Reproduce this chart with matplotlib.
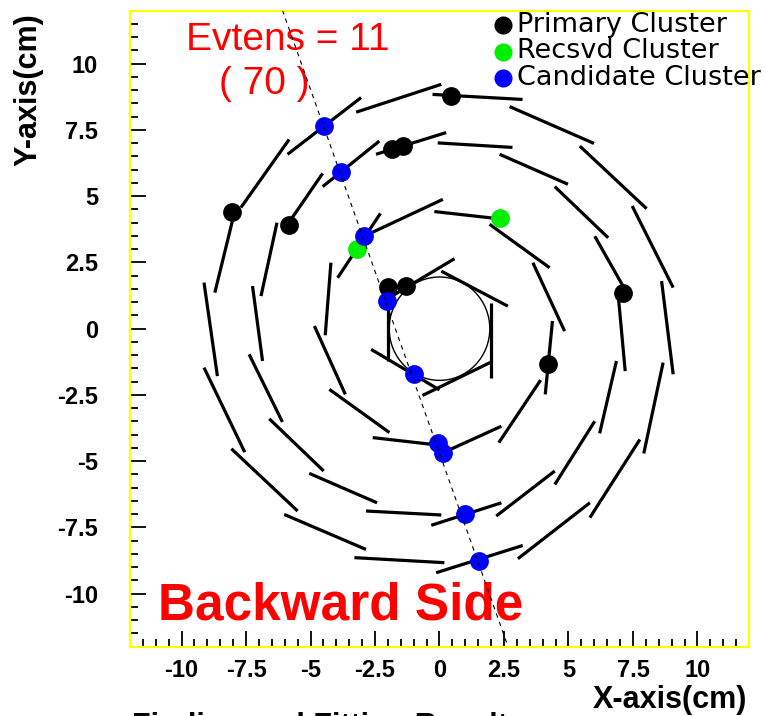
import matplotlib.pyplot as plt
import matplotlib
from matplotlib.collections import LineCollection
from matplotlib.patches import Circle
from matplotlib.ticker import MultipleLocator

# 字体
matplotlib.rc("font", family=['Liberation Sans', 'DejaVu Sans'])
matplotlib.rcParams['axes.unicode_minus'] = False

# 探测器梯子 (x0, y0, x1, y1)，单位 cm
ring0 = [(-2.00, -1.22, -2.00, 1.80), (-2.00, 1.14, 0.58, 2.64), (0.07, 2.17, 2.65, 0.85),
         (1.98, 0.98, 1.98, -1.85), (1.98, -1.27, -0.66, -2.52), (0.00, -2.31, -2.65, -0.78)]
ring1 = [(-3.95, 1.92, -2.29, 4.35), (-2.68, 3.60, 0.13, 4.88), (-0.20, 4.42, 2.55, 4.12),
         (1.94, 3.94, 4.27, 2.30), (3.62, 2.49, 4.85, -0.09), (4.38, 0.29, 4.10, -2.48),
         (3.92, -1.94, 2.30, -4.30), (2.40, -3.68, -0.13, -4.80), (0.20, -4.42, -2.59, -4.11),
         (-1.94, -3.92, -4.27, -2.29), (-3.65, -2.48, -4.85, 0.10), (-4.43, -0.25, -4.21, 2.49)]
ring2 = [(-2.46, 6.58, 0.26, 7.40), (-0.07, 7.01, 2.83, 6.84), (2.33, 6.58, 4.98, 5.45),
         (4.47, 5.36, 6.54, 3.43), (6.02, 3.49, 7.30, 1.29), (6.92, 1.36, 7.20, -1.60),
         (6.86, -1.22, 6.21, -3.95), (6.02, -3.49, 4.47, -5.88), (4.47, -5.37, 2.20, -7.07),
         (2.40, -6.57, -0.32, -7.42), (0.07, -7.03, -2.85, -6.88), (-2.42, -6.57, -5.05, -5.46),
         (-4.49, -5.37, -6.60, -3.40), (-6.09, -3.52, -7.38, -0.97), (-6.86, -1.22, -7.25, 1.61),
         (-6.92, 1.23, -6.30, 4.00), (-6.02, 3.75, -4.53, 5.86), (-4.53, 5.36, -2.33, 7.08)]
ring3 = [(-3.23, 8.17, 0.07, 9.22), (-0.27, 8.84, 3.22, 8.65), (2.72, 8.38, 5.99, 6.99),
         (5.44, 6.89, 8.03, 4.53), (7.47, 4.63, 9.06, 1.55), (8.61, 1.80, 9.06, -1.72),
         (8.67, -1.28, 7.92, -4.71), (7.77, -4.18, 5.83, -7.13), (5.83, -6.57, 3.04, -8.68),
         (3.23, -8.18, -0.13, -9.21), (0.19, -8.83, -3.30, -8.64), (-2.85, -8.33, -6.02, -7.01),
         (-5.50, -6.88, -8.07, -4.53), (-7.55, -4.66, -9.13, -1.47), (-8.61, -1.79, -9.13, 1.74),
         (-8.71, 1.36, -7.92, 4.50), (-7.70, 4.57, -5.83, 7.14), (-5.89, 6.58, -3.04, 8.72)]
beam_pipe_r = 1.95

# 簇
primary_x = [0.43, -8.03, -5.83, -1.86, -1.40, -2.01, -1.29, 4.21, 7.12]
primary_y = [8.78, 4.40, 3.90, 6.77, 6.89, 1.56, 1.61, -1.35, 1.36]
recsvd_x = [-3.20, 2.33]
recsvd_y = [2.99, 4.19]
cand_x = [-4.47, -3.82, -2.91, -2.03, -0.97, -0.07, 0.13, 0.97, 1.55]
cand_y = [7.65, 5.91, 3.49, 1.04, -1.72, -4.30, -4.68, -7.00, -8.77]

# 拟合径迹
track_x = [-6.09, 2.60]
track_y = [12.02, -11.84]

legend_labels = ['Primary Cluster', 'Recsvd Cluster', 'Candidate Cluster']
legend_colors = ['black', '#00ee00', '#0000ff']

fig = plt.figure(figsize=(7.65, 7.16), dpi=100)
ax = fig.add_axes([0.1699, 0.0968, 0.8092, 0.8883])

for ring in [ring0, ring1, ring2, ring3]:
    segs = [[(s[0], s[1]), (s[2], s[3])] for s in ring]
    ax.add_collection(LineCollection(segs, colors='black', linewidths=2.3, capstyle='butt'))
ax.add_patch(Circle((0, 0), beam_pipe_r, fill=False, edgecolor='black', linewidth=1.0))

ax.plot(primary_x, primary_y, 'o', color='black', ms=12.5, zorder=3)
ax.plot(recsvd_x, recsvd_y, 'o', color='#00ee00', ms=12.5, zorder=3)
ax.plot(cand_x, cand_y, 'o', color='#0000ff', ms=12.5, zorder=4)
ax.plot(track_x, track_y, color='black', lw=0.8, dashes=(4, 4), zorder=5)

ax.set_xlim(-12, 12)
ax.set_ylim(-12, 12)

# 坐标轴样式
for sp in ax.spines.values():
    sp.set_color('#ffff00')
    sp.set_linewidth(1.6)
ax.xaxis.set_major_locator(MultipleLocator(2.5))
ax.yaxis.set_major_locator(MultipleLocator(2.5))
ax.xaxis.set_minor_locator(MultipleLocator(0.5))
ax.yaxis.set_minor_locator(MultipleLocator(0.5))
ax.xaxis.set_major_formatter(matplotlib.ticker.FuncFormatter(lambda v, p: '%g' % v))
ax.yaxis.set_major_formatter(matplotlib.ticker.FuncFormatter(lambda v, p: '%g' % v))
ax.tick_params(which='both', direction='in', top=False, right=False, width=1.3, color='black')
ax.tick_params(which='major', length=11.5, labelsize=17)
ax.tick_params(which='minor', length=5.8)
ax.tick_params(axis='y', which='major', pad=23)
ax.tick_params(axis='x', which='major', pad=9)
for lb in ax.get_xticklabels() + ax.get_yticklabels():
    lb.set_fontweight('bold')

# 文字
ax.text(-5.9, 10.9, 'Evtens = 11', color='red', fontsize=28, ha='center', va='center')
ax.text(-6.8, 9.25, '( 70 )', color='red', fontsize=28, ha='center', va='center')
ax.text(-3.85, -10.45, 'Backward Side', color='red', fontsize=37, fontweight='bold',
        ha='center', va='center')

# 图例
for i in range(3):
    yy = 1 - (25 + i * 26.5) / 716
    fig.lines.append(matplotlib.lines.Line2D([503 / 765], [yy], marker='o', ms=12,
                                             color=legend_colors[i], transform=fig.transFigure))
    fig.text(517 / 765, yy, legend_labels[i], fontsize=19.5, family='DejaVu Sans',
             ha='left', va='center')

fig.text(28 / 765, 1 - 13 / 716, 'Y-axis(cm)', rotation=90, fontsize=22, fontweight='bold',
         ha='center', va='top')
fig.text(747 / 765, 8 / 716, 'X-axis(cm)', fontsize=22, fontweight='bold',
         ha='right', va='baseline')
# 底部标题在原图中被截断
fig.text(132 / 765, 4 / 716, 'Finding and Fitting Result', fontsize=22, fontweight='bold',
         ha='left', va='top')

plt.savefig('out.png', dpi=100)
